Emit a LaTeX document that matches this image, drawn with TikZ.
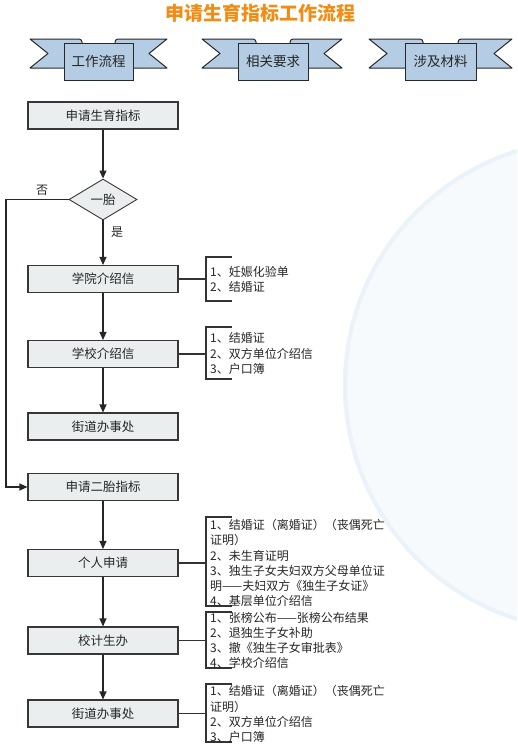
\documentclass[tikz,border=0pt]{standalone}
\usepackage{fontspec}
\newfontfamily\cjk{Noto Sans CJK SC}
\usetikzlibrary{arrows.meta,shapes.geometric}
\definecolor{boxfill}{RGB}{234,238,239}
\definecolor{boxline}{RGB}{55,55,55}
\definecolor{ribfill}{RGB}{180,205,228}
\definecolor{ribline}{RGB}{40,40,40}
\definecolor{titleorange}{RGB}{241,140,20}
\definecolor{globefill}{RGB}{246,250,253}
\definecolor{globeedge}{RGB}{234,242,250}
\tikzset{
 flowbox/.style={draw=boxline, fill=boxfill, line width=1.1pt, minimum width=150pt, minimum height=27pt, inner sep=0pt, font=\cjk\fontsize{12.5}{15}\selectfont, text=black!85},
 decision/.style={diamond, draw=boxline, fill=boxfill, line width=0.9pt, minimum width=68pt, minimum height=41pt, inner sep=0pt, font=\cjk\fontsize{12.5}{15}\selectfont, text=black!85},
 flowarrow/.style={draw=black!85, line width=1.1pt, -{Triangle[length=8pt,width=7pt]}},
 plainline/.style={draw=black!80, line width=1.1pt},
 notes/.style={anchor=west, align=left, inner sep=0pt, font=\cjk\fontsize{12}{15.2}\selectfont, text=black!85},
 lbl/.style={inner sep=0pt, font=\cjk\fontsize{12}{14}\selectfont, text=black!85},
 ribtail/.style={draw=ribline, fill=ribfill, line width=1pt, line join=round},
 ribbox/.style={draw=ribline, fill=ribfill, line width=1pt, minimum height=37pt, inner sep=0pt, font=\cjk\fontsize{13.5}{16}\selectfont, text=black!85}
}
\newcommand\myribbon[6]{%
 \draw[ribtail] (#1,39) -- (#2+15,39) to[out=0,in=90] (#2+18,42) -- (#2+18,68) -- (#1,68) -- (#1+18,53.5) -- cycle;
 \draw[ribtail] (#4,39) -- (#3-15,39) to[out=180,in=90] (#3-18,42) -- (#3-18,68) -- (#4,68) -- (#4-18,53.5) -- cycle;
 \node[ribbox, minimum width=#3-#2] (#5) at ({(#2+#3)/2},61.5) {#6};
}
\begin{document}
\begin{tikzpicture}[x=1pt,y=-1pt]
\useasboundingbox (0,0) rectangle (517,747);
\begin{scope}
 \clip (0,0) rectangle (517,747);
 \fill[globefill] (590,385) circle (247);
 \draw[globeedge, line width=4pt] (590,385) circle (245);
\end{scope}

\node[font=\cjk\bfseries\fontsize{19}{21}\selectfont, text=titleorange, inner sep=0pt] (title) at (260.5,13) {申请生育指标工作流程};

\myribbon{30}{64}{133}{167}{rib1}{工作流程}
\myribbon{202}{238}{308}{342}{rib2}{相关要求}
\myribbon{369}{405}{476}{512}{rib3}{涉及材料}

\node[flowbox] (b1) at (103,115.5) {申请生育指标};
\node[decision] (d) at (103,199.5) {一胎};
\node[flowbox] (b2) at (103,279) {学院介绍信};
\node[flowbox] (b3) at (103,354) {学校介绍信};
\node[flowbox] (b4) at (103,426.5) {街道办事处};
\node[flowbox] (b5) at (103,487) {申请二胎指标};
\node[flowbox] (b6) at (103,563) {个人申请};
\node[flowbox] (b7) at (103,640.5) {校计生办};
\node[flowbox] (b8) at (103,713.5) {街道办事处};

\draw[flowarrow] (b1) -- (d);
\draw[flowarrow] (d) -- (b2);
\draw[flowarrow] (b2) -- (b3);
\draw[flowarrow] (b3) -- (b4);
\draw[flowarrow] (b5) -- (b6);
\draw[flowarrow] (b6) -- (b7);
\draw[flowarrow] (b7) -- (b8);
\coordinate (lft) at (6,199.5);
\draw[flowarrow] (d.west) -- (lft) |- (b5.west);
\node[lbl] (no) at (42,190) {否};
\node[lbl] (yes) at (117,232) {是};

% brackets
\coordinate (k1) at (206,279);
\draw[plainline] (b2.east) -- (k1);
\draw[plainline] (232,257) -- (206,257) -- (206,301) -- (232,301);
\node[notes] (n1) at (210,279) {1、妊娠化验单\\2、结婚证};

\coordinate (k2) at (206,354);
\draw[plainline] (b3.east) -- (k2);
\draw[plainline] (232,327) -- (206,327) -- (206,379) -- (232,379);
\node[notes] (n2) at (210,353.5) {1、结婚证\\2、双方单位介绍信\\3、户口簿};

\coordinate (k3) at (206,563);
\draw[plainline] (b6.east) -- (k3);
\draw[plainline] (232,517) -- (206,517) -- (206,606) -- (232,606);
\node[notes] (n3) at (210,563) {1、结婚证（离婚证）（丧偶死亡\\证明）\\2、未生育证明\\3、独生子女夫妇双方父母单位证\\明——夫妇双方《独生子女证》\\4、基层单位介绍信};

\coordinate (k4) at (206,640.5);
\draw[plainline] (b7.east) -- (k4);
\draw[plainline] (232,612) -- (206,612) -- (206,668) -- (232,668);
\node[notes] (n4) at (210,640.5) {1、张榜公布——张榜公布结果\\2、退独生子女补助\\3、撤《独生子女审批表》\\4、学校介绍信};

\coordinate (k5) at (206,713.5);
\draw[plainline] (b8.east) -- (k5);
\draw[plainline] (232,684) -- (206,684) -- (206,742) -- (232,742);
\node[notes] (n5) at (210,714) {1、结婚证（离婚证）（丧偶死亡\\证明）\\2、双方单位介绍信\\3、户口簿};
\end{tikzpicture}
\end{document}
